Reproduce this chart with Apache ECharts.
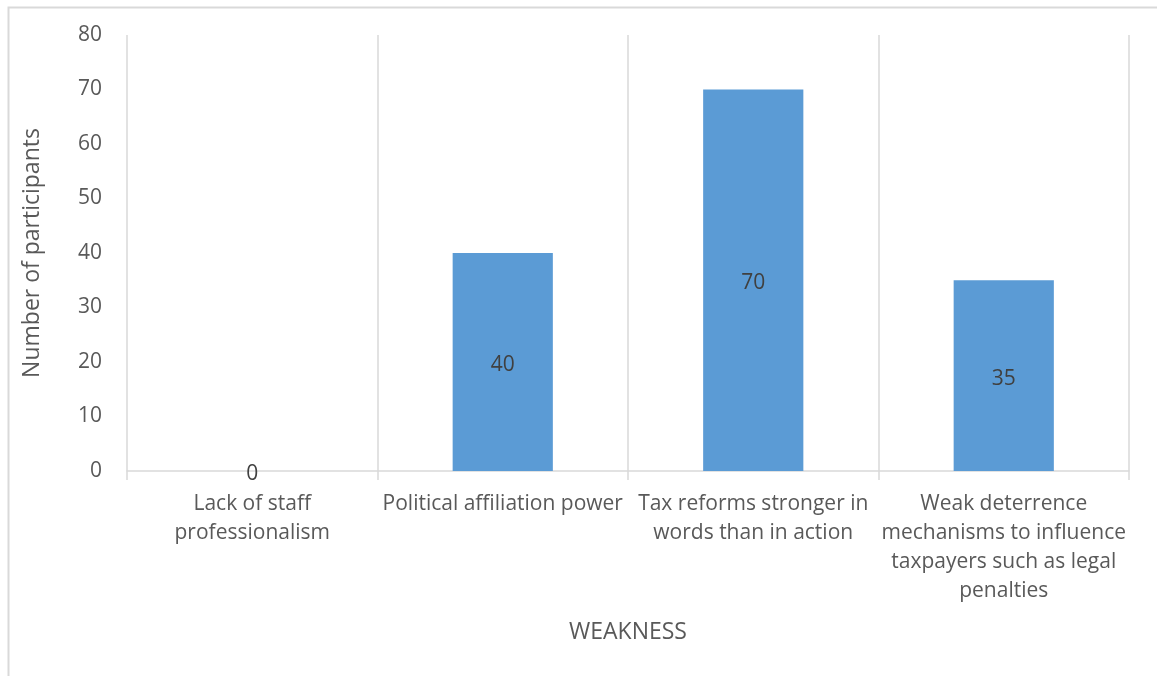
<!DOCTYPE html>
<html>
<head>
<meta charset="utf-8">
<script src="https://cdn.jsdelivr.net/npm/echarts@6/dist/echarts.min.js"></script>
<style>
  html, body { margin: 0; padding: 0; background: #fff; }
  #chart { width: 1157px; height: 676px; }
</style>
</head>
<body>
<div id="chart"></div>
<script>
// Weakness categories and participant counts
const categories = [
  'Lack of staff\nprofessionalism',
  'Political affiliation power',
  'Tax reforms stronger in\nwords than in action',
  'Weak deterrence\nmechanisms to influence\ntaxpayers such as legal\npenalties'
];
const participants = [0, 40, 70, 35];
const xAxisTitle = 'WEAKNESS';
const yAxisTitle = 'Number of participants';

const FONT = '"Open Sans", sans-serif';
const chart = echarts.init(document.getElementById('chart'));

chart.setOption({
  backgroundColor: '#ffffff',
  animation: false,
  graphic: [{
    type: 'rect',
    left: 6, top: 5,
    shape: { width: 1170, height: 690 },
    style: { fill: 'none', stroke: '#d9d9d9', lineWidth: 2 },
    silent: true
  }],
  grid: { left: 127, right: 28, top: 35, bottom: 205 },
  xAxis: {
    type: 'category',
    data: categories,
    boundaryGap: true,
    name: xAxisTitle,
    nameLocation: 'middle',
    nameGap: 150,
    nameTextStyle: { fontFamily: FONT, fontSize: 23, color: '#595959' },
    axisLine: { show: true, lineStyle: { color: '#d9d9d9', width: 1.5 } },
    axisTick: { show: true, length: 9, lineStyle: { color: '#d9d9d9', width: 1.5 } },
    splitLine: { show: true, lineStyle: { color: '#d9d9d9', width: 1.5 } },
    axisLabel: {
      interval: 0,
      margin: 19,
      fontFamily: FONT,
      fontSize: 21,
      lineHeight: 29,
      color: '#595959'
    }
  },
  yAxis: {
    type: 'value',
    min: 0, max: 80, interval: 10,
    name: yAxisTitle,
    nameLocation: 'middle',
    nameRotate: 90,
    nameGap: 83,
    nameTextStyle: { fontFamily: FONT, fontSize: 23, color: '#595959' },
    axisLine: { show: false },
    axisTick: { show: false },
    splitLine: { show: false },
    axisLabel: { margin: 25, fontFamily: FONT, fontSize: 21, color: '#595959', padding: [4, 0, 0, 0] }
  },
  series: [{
    type: 'bar',
    data: participants,
    barWidth: '40%',
    itemStyle: { color: '#5b9bd5' },
    label: {
      show: true,
      position: 'inside',
      offset: [0, 3],
      fontFamily: FONT,
      fontSize: 21,
      color: '#404040'
    }
  }]
});
</script>
</body>
</html>
